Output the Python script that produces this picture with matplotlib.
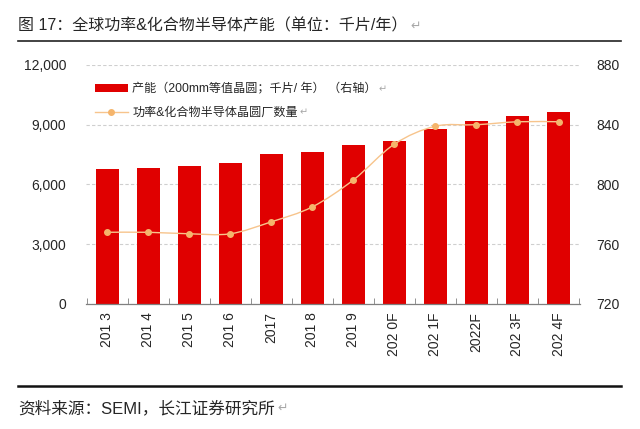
import numpy as np
import matplotlib
matplotlib.use("Agg")
from matplotlib import pyplot as plt
from matplotlib.path import Path
from matplotlib.patches import PathPatch, Patch
from matplotlib.lines import Line2D
from matplotlib.ticker import FuncFormatter, FixedLocator

plt.rcParams['font.family'] = ['Liberation Sans', 'Noto Sans CJK SC', 'DejaVu Sans']

#############################################################
# Data
#############################################################
years = ["201 3", "201 4", "201 5", "201 6", "2017", "201 8", "201 9",
         "202 0F", "202 1F", "2022F", "202 3F", "202 4F"]
capacity = [6780, 6830, 6910, 7100, 7520, 7650, 7980, 8200, 8790, 9210, 9460, 9620]
fabs = [768, 768, 767, 767, 775, 785, 803, 827, 839, 840, 842, 842]

leftTicks = [0, 3000, 6000, 9000, 12000]
rightTicks = [720, 760, 800, 840, 880]

BAR_RED = "#E00000"
LINE_ORANGE = "#F7C48C"
MARK_ORANGE = "#F5B56C"
TXT = "#262626"
MARK_GRAY = "#A8A8A8"
RET = "\u21b5"

#############################################################
# Plot
#############################################################
fig = plt.figure(figsize=(6.4, 4.29), dpi=100)
ax = fig.add_axes([0.134, 0.2914, 0.772, 0.5571])
ax2 = ax.twinx()

x = np.arange(len(years))
ax.bar(x, capacity, width=0.56, color=BAR_RED, zorder=2)

ax.set_ylim(0, 12000)
ax.set_xlim(-0.52, 11.52)
ax.set_yticks(leftTicks)
ax.yaxis.set_major_formatter(FuncFormatter(lambda v, p: f"{int(v):,}"))
ax.grid(axis="y", color="#CFCFCF", linestyle=(0, (3, 2)), linewidth=0.8)
ax.set_axisbelow(True)

ax.set_xticks(x)
ax.set_xticklabels(years, rotation=90, fontsize=10, color=TXT)
ax.xaxis.set_minor_locator(FixedLocator(np.arange(-0.5, len(years), 1.0)))
ax.tick_params(axis="x", which="major", length=0, pad=6)
ax.tick_params(axis="x", which="minor", length=4, direction="in", color="#808080")
ax.tick_params(axis="y", length=0, labelsize=10, labelcolor=TXT, pad=14)

ax2.set_ylim(720, 880)
ax2.set_yticks(rightTicks)
ax2.tick_params(axis="y", length=0, labelsize=10, labelcolor=TXT, pad=12)

for a in (ax, ax2):
    for s in ("left", "right", "top"):
        a.spines[s].set_visible(False)
    a.spines["bottom"].set_color("#808080")
    a.spines["bottom"].set_linewidth(0.9)
ax2.spines["bottom"].set_visible(False)

# smooth line (Catmull-Rom as cubic Bezier, like a smoothed office chart)
pts = np.column_stack((x, fabs)).astype(float)
ext = np.vstack((pts[0], pts, pts[-1]))
verts = [tuple(pts[0])]
codes = [Path.MOVETO]
for i in range(len(pts) - 1):
    p0, p1, p2, p3 = ext[i], ext[i + 1], ext[i + 2], ext[i + 3]
    c1 = p1 + (p2 - p0) / 6.0
    c2 = p2 - (p3 - p1) / 6.0
    verts += [tuple(c1), tuple(c2), tuple(p2)]
    codes += [Path.CURVE4] * 3
ax2.add_patch(PathPatch(Path(verts, codes), facecolor="none",
                        edgecolor=LINE_ORANGE, linewidth=1.0, zorder=3))
ax2.plot(x, fabs, linestyle="none", marker="o", markersize=4,
         color=MARK_ORANGE, zorder=4)

handles = [Patch(facecolor=BAR_RED, edgecolor="none"),
           Line2D([0], [0], color=LINE_ORANGE, lw=1.0, marker="o",
                  markersize=4, markerfacecolor=MARK_ORANGE, markeredgecolor=MARK_ORANGE)]
labels = ["产能（200mm等值晶圆；千片/ 年） （右轴）", "功率&化合物半导体晶圆厂数量"]
leg = ax2.legend(handles, labels, loc="upper left", bbox_to_anchor=(0.148, 0.806),
                 bbox_transform=fig.transFigure, frameon=False, fontsize=8.7,
                 handlelength=2.75, handletextpad=0.35, labelspacing=0.95,
                 borderpad=0, borderaxespad=0)
for t in leg.get_texts():
    t.set_color(TXT)

# title and source
title = fig.text(0.028, 0.94, "图 17：全球功率&化合物半导体产能（单位：千片/年）",
                 fontsize=11.5, color=TXT, va="center", ha="left")
fig.add_artist(Line2D([0.028, 0.97], [0.905, 0.905], color="#222222", lw=1.2))
fig.add_artist(Line2D([0.028, 0.97], [0.101, 0.101], color="#111111", lw=1.8))
source = fig.text(0.028, 0.048, "资料来源：SEMI，长江证券研究所",
                  fontsize=12, color=TXT, va="center", ha="left")

# paragraph marks after the texts, as in the source document
fig.canvas.draw()
r = fig.canvas.get_renderer()
for t, y, fs in ((title, 0.94, 9), (source, 0.048, 9)):
    bb = t.get_window_extent(r)
    fig.text((bb.x1 + 3) / fig.bbox.width, y, RET, fontsize=fs,
             color=MARK_GRAY, va="center", ha="left", family="DejaVu Sans")
for t in leg.get_texts():
    bb = t.get_window_extent(r)
    fig.text((bb.x1 + 2) / fig.bbox.width, (bb.y0 + bb.y1) / 2 / fig.bbox.height, RET,
             fontsize=7, color=MARK_GRAY, va="center", ha="left", family="DejaVu Sans")

fig.savefig("out.png", dpi=100)
